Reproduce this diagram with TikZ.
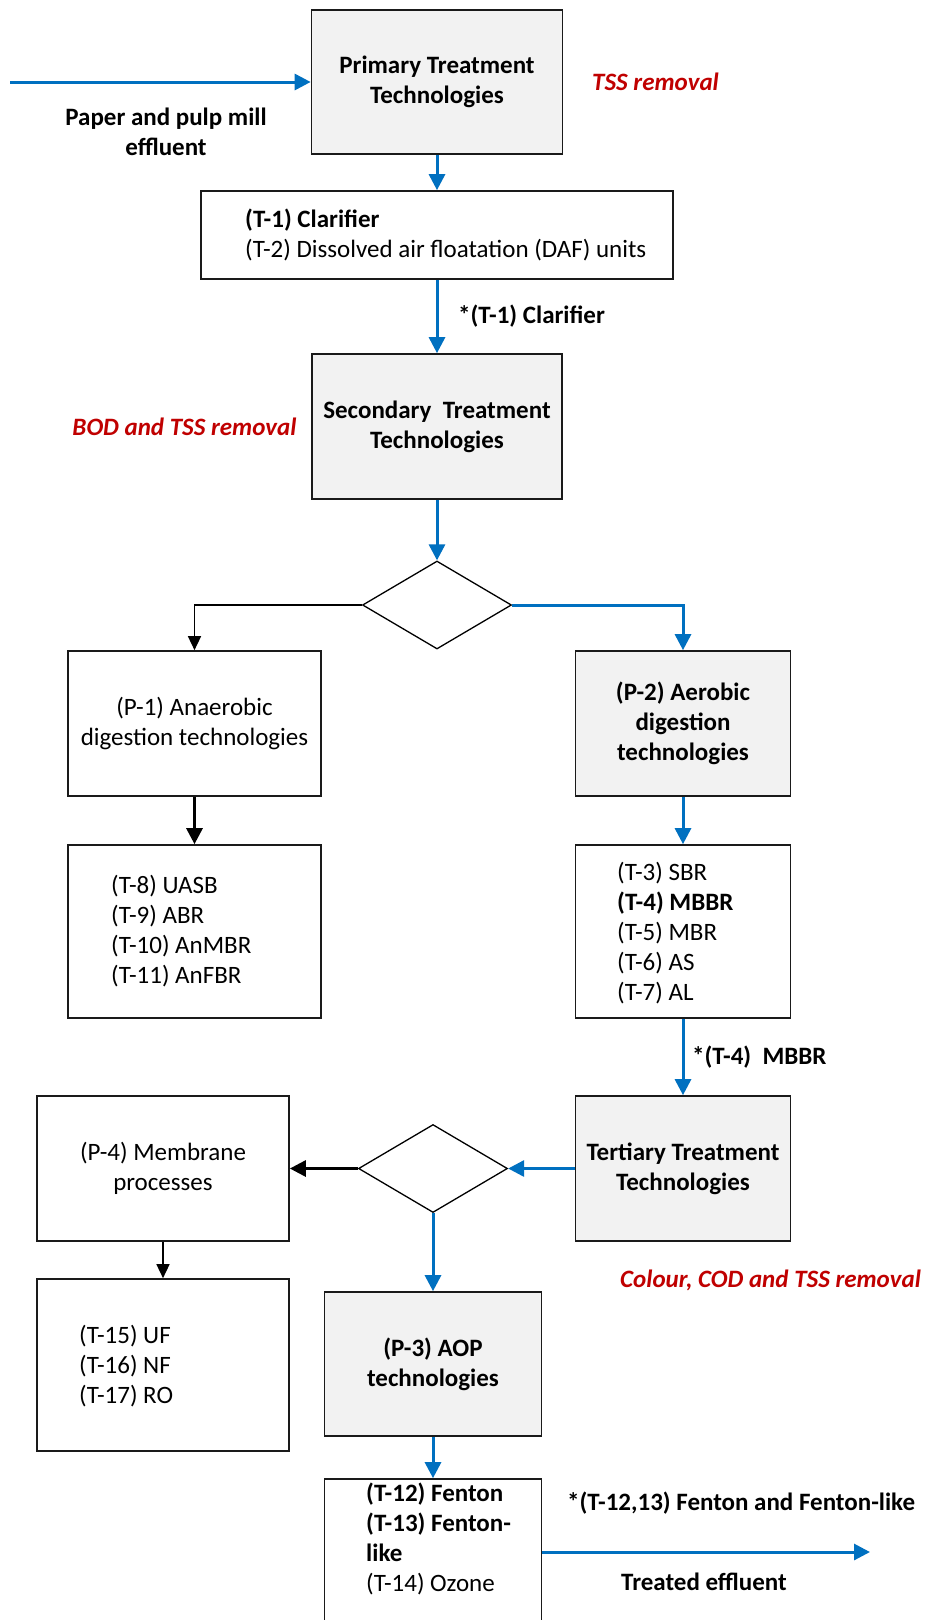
\documentclass[tikz,border=0pt]{standalone}
\usepackage{fontspec}
\setmainfont{Carlito}
\usetikzlibrary{arrows.meta,shapes.geometric}
\definecolor{flowblue}{HTML}{0070C0}
\definecolor{notered}{HTML}{C00000}
\definecolor{boxgrey}{HTML}{F2F2F2}
\definecolor{edgegrey}{HTML}{1A1A1A}
\begin{document}
\begin{tikzpicture}[x=1pt,y=-1pt,
  every node/.style={font=\fontsize{25}{30}\selectfont, inner sep=0pt},
  box/.style={draw=edgegrey, line width=1.7pt, rectangle, inner sep=0pt, align=center},
  greybox/.style={box, fill=boxgrey},
  decide/.style={draw=black, line width=1.3pt, diamond, minimum width=149pt, minimum height=88pt, inner sep=0pt},
  blueflow/.style={draw=flowblue, line width=3pt, -{Triangle[length=16pt,width=16pt]}},
  blackflow/.style={draw=black, line width=1.6pt, -{Triangle[length=14pt,width=13pt]}},
  heavyflow/.style={draw=black, line width=3pt, -{Triangle[length=16pt,width=16pt]}},
  note/.style={font=\fontsize{25}{30}\selectfont\bfseries\itshape, text=notered},
  tag/.style={font=\fontsize{25}{30}\selectfont\bfseries},
  listtext/.style={anchor=west, align=left},
]
\useasboundingbox[fill=white] (0,0) rectangle (928,1620);

% boxes
\node[greybox, minimum width=251pt, minimum height=144pt] (primary) at (437,82) {\bfseries Primary Treatment\\\bfseries Technologies};
\node[box, minimum width=472pt, minimum height=88pt] (clar) at (437,235) {};
\node[listtext] (clartext) at (245,235) {\textbf{(T-1) Clarifier}\\(T-2) Dissolved air floatation (DAF) units};
\node[greybox, minimum width=250pt, minimum height=145pt] (secondary) at (437,426.5) {\bfseries Secondary\ \ Treatment\\\bfseries Technologies};
\node[decide] (d1) at (437,605) {};
\node[box, minimum width=253pt, minimum height=145pt] (p1) at (194.5,723.5) {(P-1) Anaerobic\\digestion technologies};
\node[greybox, minimum width=215pt, minimum height=145pt] (p2) at (683,723.5) {\bfseries (P-2) Aerobic\\\bfseries digestion\\\bfseries technologies};
\node[box, minimum width=253pt, minimum height=173pt] (t8) at (194.5,931.5) {};
\node[listtext] (t8text) at (111,931.5) {(T-8) UASB\\(T-9) ABR\\(T-10) AnMBR\\(T-11) AnFBR};
\node[box, minimum width=215pt, minimum height=173pt] (t3) at (683,931.5) {};
\node[listtext] (t3text) at (617,933) {(T-3) SBR\\\textbf{(T-4) MBBR}\\(T-5) MBR\\(T-6) AS\\(T-7) AL};
\node[greybox, minimum width=215pt, minimum height=145pt] (tertiary) at (683,1168.5) {\bfseries Tertiary Treatment\\\bfseries Technologies};
\node[decide] (d2) at (433,1168.5) {};
\node[box, minimum width=252pt, minimum height=145pt] (p4) at (163,1168.5) {(P-4) Membrane\\processes};
\node[box, minimum width=252pt, minimum height=172pt] (t15) at (163,1365) {};
\node[listtext] (t15text) at (79,1366) {(T-15) UF\\(T-16) NF\\(T-17) RO};
\node[greybox, minimum width=217pt, minimum height=144pt] (aop) at (433,1364) {\bfseries (P-3) AOP\\\bfseries technologies};
\node[box, minimum width=217pt, minimum height=146pt] (fenton) at (433,1552) {};
\node[listtext] (fentontext) at (366,1538.5) {\textbf{(T-12) Fenton}\\\textbf{(T-13) Fenton-}\\\textbf{like}\\(T-14) Ozone};

% labels
\node[tag, align=center] (feed) at (166,132) {Paper and pulp mill\\effluent};
\node[note, anchor=west] (tss1) at (592,82) {TSS removal};
\node[tag, anchor=west] (sel1) at (458,316) {*(T-1) Clarifier};
\node[note] (bod) at (184.5,427) {BOD and TSS removal};
\node[tag, anchor=west] (sel2) at (692,1057) {*(T-4)\ \ MBBR};
\node[note, anchor=west] (cod) at (620,1280) {Colour, COD and TSS removal};
\node[tag, anchor=west] (sel3) at (567,1503) {*(T-12,13) Fenton and Fenton-like};
\node[tag] (treated) at (704,1582) {Treated effluent};

% connectors
\coordinate (in) at (10,82);
\coordinate (out) at (870,1552);
\draw[blueflow] (in) -- (primary.west);
\draw[blueflow] (primary.south) -- (clar.north);
\draw[blueflow] (clar.south) -- (secondary.north);
\draw[blueflow] (secondary.south) -- (d1.north);
\draw[blackflow] (d1.west) -| (p1.north);
\draw[blueflow] (d1.east) -| (p2.north);
\draw[heavyflow] (p1.south) -- (t8.north);
\draw[blueflow] (p2.south) -- (t3.north);
\draw[blueflow] (t3.south) -- (tertiary.north);
\draw[blueflow] (tertiary.west) -- (d2.east);
\draw[heavyflow] (d2.west) -- (p4.east);
\draw[blackflow] (p4.south) -- (t15.north);
\draw[blueflow] (d2.south) -- (aop.north);
\draw[blueflow] (aop.south) -- (fenton.north);
\draw[blueflow] (fenton.east) -- (out);
\end{tikzpicture}
\end{document}
